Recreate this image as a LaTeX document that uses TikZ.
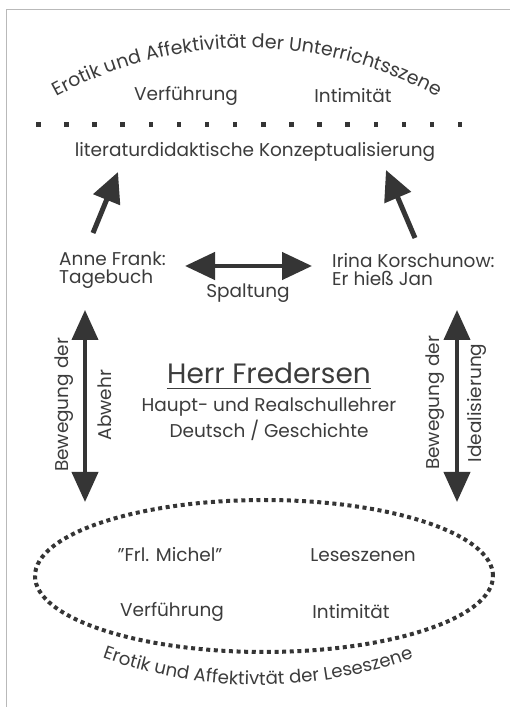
\documentclass[tikz,border=0pt]{standalone}
\usepackage{fontspec}
\setmainfont{Poppins}
\usetikzlibrary{arrows.meta,decorations.text,calc}
\definecolor{ink}{HTML}{3C3C3C}
\definecolor{arr}{HTML}{353535}
\begin{document}
\begin{tikzpicture}[x=1pt,y=1pt,
  lbl/.style={font=\fontsize{18.5}{18}\selectfont, text=ink, inner sep=0pt},
  big/.style={font=\fontsize{28}{30}\selectfont, text=ink, inner sep=0pt},
  diag/.style={draw=arr, line width=5pt, -{Triangle[length=30pt,width=28pt]}},
  vert/.style={draw=arr, line width=4pt, {Triangle[length=30pt,width=26pt]}-{Triangle[length=30pt,width=26pt]}},
  horiz/.style={draw=arr, line width=4.5pt, {Triangle[length=30pt,width=27pt]}-{Triangle[length=30pt,width=27pt]}},
  dotsq/.style={fill=arr}
]
\useasboundingbox (0,0) rectangle (513,707);
\fill[white] (0,0) rectangle (513,707);
% frame
\draw[gray!55, line width=0.7pt] (6,0) -- (6,698) -- (510,698);

% top arc text
\path[decorate, decoration={text along path, text align=center, text color=ink,
  text={|\fontsize{19}{19}\selectfont|Erotik und Affektivität der Unterrichtsszene}}]
  (247,263) ++(121:396) arc[start angle=121, end angle=59, radius=396];

\node[lbl] (v1) at (186,611) {Verführung};
\node[lbl] (i1) at (353,611) {Intimität};

% dotted separator
\foreach \i in {0,...,15} \fill[dotsq] ({36+\i*28.13},580) rectangle ++(4.5,4.5);

\node[lbl] (lit) at (255,555) {literaturdidaktische Konzeptualisierung};

\node[lbl, anchor=west, align=left] (af) at (59,437) {Anne Frank:\\Tagebuch};
\node[lbl, anchor=west, align=left] (ik) at (332,437) {Irina Korschunow:\\Er hieß Jan};
\node[lbl] (sp) at (248,414) {Spaltung};

\coordinate (afT) at (93,474);
\coordinate (afH) at (118,535);
\coordinate (ikT) at (415,469);
\coordinate (ikH) at (386,537);
\draw[diag] (afT) -- (afH);
\draw[diag] (ikT) -- (ikH);

\coordinate (spL) at (185,441);
\coordinate (spR) at (312,441);
\draw[horiz] (spL) -- (spR);

% vertical arrows
\coordinate (lvT) at (85,397);
\coordinate (lvB) at (85,205);
\coordinate (rvT) at (457,397);
\coordinate (rvB) at (457,205);
\draw[vert] (lvB) -- (lvT);
\draw[vert] (rvB) -- (rvT);

\node[lbl, rotate=90] (bw1) at (64,302) {Bewegung der};
\node[lbl, rotate=90] (ab) at (105,302) {Abwehr};
\node[lbl, rotate=90] (bw2) at (435,304) {Bewegung der};
\node[lbl, rotate=90] (id) at (477,304) {Idealisierung};

% centre
\node[big] (hf) at (269,334) {Herr Fredersen};
\draw[ink, line width=0.8pt] ($(hf.base west)+(0,-5)$) -- ($(hf.base east)+(0,-5)$);
\node[lbl] (hr) at (269,300) {Haupt- und Realschullehrer};
\node[lbl] (dg) at (269,277) {Deutsch / Geschichte};

% ellipse
\draw[arr, line width=4pt, dash pattern=on 4pt off 3.6pt] (264,131) ellipse[x radius=229, y radius=76];
\node[lbl] (fm) at (170,152) {"Frl. Michel”};
\node[lbl] (ls) at (363,152) {Leseszenen};
\node[lbl] (v2) at (172,95) {Verführung};
\node[lbl] (i2) at (351,95) {Intimität};

% bottom arc text
\path[decorate, decoration={text along path, text align=center, text color=ink,
  text={|\fontsize{18.2}{18}\selectfont|Erotik und Affektivtät der Leseszene}}]
  (258,480) ++(248:458) arc[start angle=248, end angle=292, radius=458];
\end{tikzpicture}
\end{document}
